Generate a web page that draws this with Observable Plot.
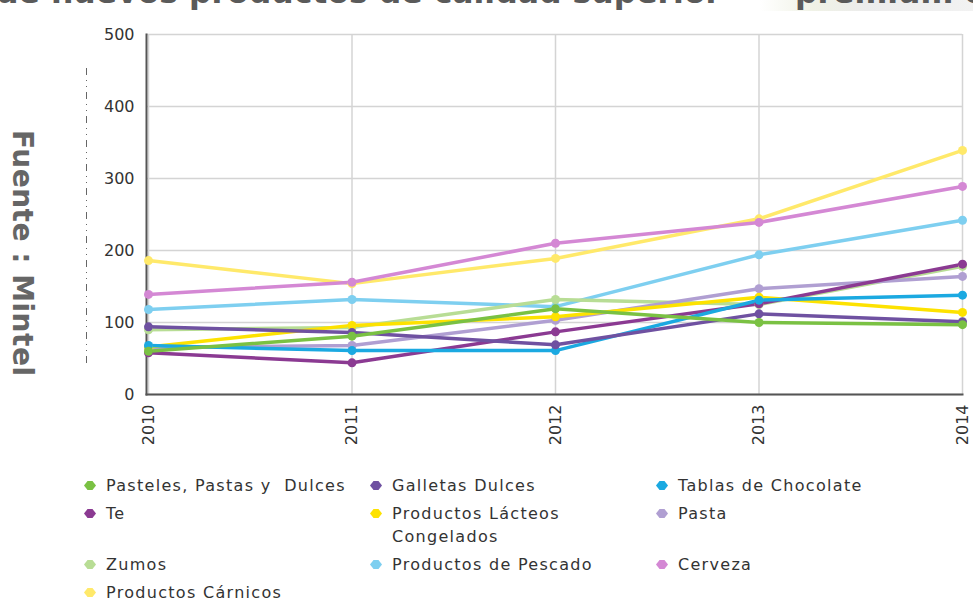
<!DOCTYPE html>
<html>
<head>
<meta charset="utf-8">
<script src="https://cdn.jsdelivr.net/npm/d3@7"></script>
<script src="https://cdn.jsdelivr.net/npm/@observablehq/plot@0.6"></script>
<style>
  html, body { margin: 0; padding: 0; background: #fff; }
  body { width: 973px; height: 598px; position: relative; overflow: hidden; font-family: "DejaVu Sans", sans-serif; }
  #title { position: absolute; left: -4px; top: -26px; white-space: pre; font: bold 31.5px "DejaVu Sans", sans-serif; color: #5a5a5a; }
  #titleBg { position: absolute; left: 760px; top: 0; width: 213px; height: 11px; background: linear-gradient(90deg, rgba(240,245,225,0) 0%, #f0f2e6 25%, #ececec 50%, #f2f2f2 100%); }
  #title2 { position: absolute; left: 795px; top: -26px; white-space: pre; font: bold 31.5px "DejaVu Sans", sans-serif; color: #5a5a5a; }
  #source { position: absolute; left: 6px; top: 130px; writing-mode: vertical-rl; font: bold 28px "DejaVu Sans", sans-serif; letter-spacing: 0.5px; color: #666; white-space: pre; }
  #dash { position: absolute; left: 85px; top: 68px; }
  #chart { position: absolute; left: 0; top: 0; }
  #legend { position: absolute; left: 84px; top: 474px; display: grid; grid-template-columns: 286px 286px 300px; row-gap: 5px; }
  .item { display: flex; align-items: flex-start; font-size: 16px; letter-spacing: 1.3px; line-height: 23px; color: #333; white-space: pre-wrap; }
  .item svg { flex: none; margin-top: 7px; margin-right: 10px; }
  .item span { max-width: 255px; }
</style>
</head>
<body>
<div id="titleBg"></div>
<div id="title">de nuevos productos de calidad superior</div>
<div id="title2">premium e</div>
<div id="source">Fuente : Mintel</div>
<svg id="dash" width="4" height="296"><line x1="1.5" y1="0" x2="1.5" y2="296" stroke="#666" stroke-width="1" stroke-dasharray="7,5,1,5,1,5"></line></svg>
<div id="chart"></div>
<div id="legend"></div>
<script>
const years = [2010, 2011, 2012, 2013, 2014];
const seriesNames = [
  "Pasteles, Pastas y  Dulces", "Galletas Dulces", "Tablas de Chocolate",
  "Te", "Productos Lácteos Congelados", "Pasta",
  "Zumos", "Productos de Pescado", "Cerveza",
  "Productos Cárnicos"
];
const seriesColors = [
  "#7ac143", "#6f51a1", "#1ba9e1",
  "#8b3a92", "#fde200", "#b09fd2",
  "#b8dd95", "#7ecff0", "#d488d4",
  "#ffe96a"
];
const pasteles   = [60, 81, 119, 100, 97];
const galletas   = [94, 86, 69, 112, 101];
const chocolate  = [68, 61, 61, 131, 138];
const te         = [58, 44, 87, 126, 181];
const lacteos    = [66, 96, 108, 135, 114];
const pasta      = [65, 68, 103, 147, 164];
const zumos      = [90, 93, 132, 125, 178];
const pescado    = [118, 132, 122, 194, 242];
const cerveza    = [139, 156, 210, 239, 289];
const carnicos   = [186, 154, 189, 244, 339];
const yTicks = [0, 100, 200, 300, 400, 500];

const seriesValues = [pasteles, galletas, chocolate, te, lacteos, pasta, zumos, pescado, cerveza, carnicos];

// Build long table; draw in reverse legend order so earlier series sit on top
const rows = [];
for (let s = seriesNames.length - 1; s >= 0; s--) {
  years.forEach((yr, i) => rows.push({serie: seriesNames[s], year: yr, value: seriesValues[s][i]}));
}

const chart = Plot.plot({
  width: 973,
  height: 450,
  marginLeft: 146,
  marginRight: 11,
  marginTop: 34,
  marginBottom: 56,
  style: {fontFamily: "DejaVu Sans, sans-serif", fontSize: "16px", color: "#333", background: "transparent"},
  x: {domain: [2010, 2014], insetLeft: 2, label: null},
  y: {domain: [0, 500], label: null},
  color: {domain: seriesNames, range: seriesColors},
  marks: [
    Plot.gridX(years, {stroke: "#d4d4d4", strokeOpacity: 1, strokeWidth: 1.5}),
    Plot.gridY(yTicks, {stroke: "#d4d4d4", strokeOpacity: 1, strokeWidth: 1.5}),
    Plot.frame({anchor: "left", stroke: "#555", strokeWidth: 2}),
    Plot.frame({anchor: "bottom", stroke: "#555", strokeWidth: 2}),
    Plot.line(rows, {x: "year", y: "value", z: "serie", stroke: "serie", strokeWidth: 3.5, curve: "linear"}),
    Plot.dot(rows, {x: "year", y: "value", fill: "serie", r: 4.5, stroke: null}),
    Plot.axisX(years, {tickFormat: d => String(d), tickRotate: -90, tickSize: 0, tickPadding: 10, fill: "#333"}),
    Plot.axisY(yTicks, {tickSize: 0, tickPadding: 12, fill: "#333"})
  ]
});
document.getElementById("chart").appendChild(chart);

// Legend
const legend = document.getElementById("legend");
seriesNames.forEach((name, i) => {
  const div = document.createElement("div");
  div.className = "item";
  div.innerHTML = `<svg width="12" height="9"><path d="M0,4.5 L3.5,0 L8.5,0 L12,4.5 L8.5,9 L3.5,9 Z" fill="${seriesColors[i]}"></path></svg><span></span>`;
  div.querySelector("span").textContent = name;
  legend.appendChild(div);
});
</script>
</body>
</html>
